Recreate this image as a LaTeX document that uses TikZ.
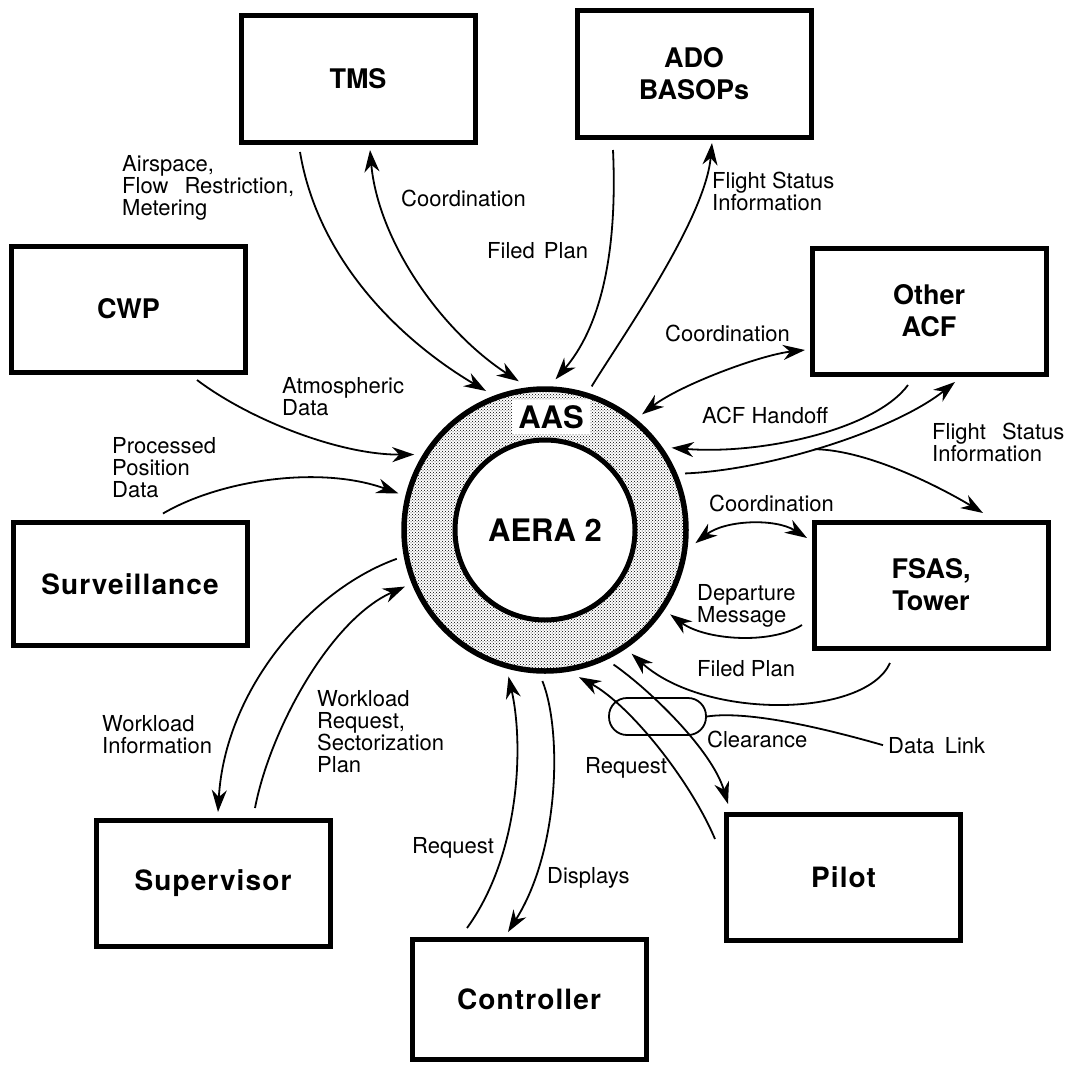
\documentclass[tikz,border=0pt]{standalone}
\usepackage{fontspec}
\setmainfont{TeX Gyre Heros}
\newfontfamily\spacedheros[LetterSpace=4]{TeX Gyre Heros}
\usetikzlibrary{arrows.meta,patterns}
\begin{document}
\begin{tikzpicture}[x=1pt,y=-1pt,
  >={Stealth[length=22pt,width=15pt,inset=7pt]},
  box/.style={draw,line width=5pt,minimum width=234pt,minimum height=126pt,
    align=center,inner sep=0pt,font=\fontsize{27}{32}\selectfont\bfseries},
  widebox/.style={box,font=\spacedheros\fontsize{28}{32}\selectfont\bfseries},
  lbl/.style={font=\fontsize{22}{22}\selectfont,align=left,inner sep=0pt,anchor=base west},
  flow/.style={line width=1.8pt},
  core/.style={circle,draw,inner sep=0pt,font=\fontsize{31}{31}\selectfont\bfseries}]
\useasboundingbox (0,0) rectangle (1076,1065);

% central system: AAS ring around AERA 2
\node[core,line width=5.5pt,minimum size=282pt,outer sep=10pt,pattern=crosshatch dots] (aas) at (545,530) {};
\node[core,line width=5pt,minimum size=180pt,fill=white] (aera) at (545,530) {AERA 2};
\node[fill=white,inner xsep=6pt,inner ysep=5pt,font=\fontsize{31}{31}\selectfont\bfseries] (aaslbl) at (551,417) {AAS};

% external entities
\node[box] (tms) at (358,79) {TMS};
\node[box] (ado) at (694,74) {ADO\\BASOPs};
\node[box] (cwp) at (128.5,309) {CWP};
\node[box] (acf) at (929,311) {Other\\ACF};
\node[widebox,minimum height=123pt] (surv) at (130,584) {Surveillance};
\node[box] (fsas) at (931,585) {FSAS,\\Tower};
\node[widebox] (sup) at (213,883.5) {Supervisor};
\node[widebox,minimum height=120pt] (ctl) at (529,999.5) {Controller};
\node[widebox] (pilot) at (843.5,877.5) {Pilot};

% data flows, top
\draw[flow,->] ([xshift=-58pt,yshift=-7.5pt]tms.south) .. controls (318,260) and (400,340) .. (aas.113);
\draw[flow,<->] ([xshift=12pt,yshift=-5.5pt]tms.south) .. controls (378,240) and (440,330) .. (aas.100);
\draw[flow,->] ([xshift=-81pt,yshift=-10.5pt]ado.south) .. controls (618,260) and (598,330) .. (aas.86);
\draw[flow,->] (aas.72) .. controls (620,340) and (705,220) .. ([xshift=18pt,yshift=-3.5pt]ado.south);

% data flows, left
\draw[flow,->] ([xshift=68.5pt,yshift=-5.5pt]cwp.south) .. controls (250,420) and (340,455) .. (aas.150);
\draw[flow,->] ([xshift=33pt,yshift=6.5pt]surv.north) .. controls (220,480) and (320,465) .. (aas.166);
\draw[flow,->] (aas.191) .. controls (310,590) and (225,690) .. ([xshift=5pt,yshift=6pt]sup.north);
\draw[flow,->] ([xshift=42pt,yshift=10pt]sup.north) .. controls (270,730) and (330,620) .. (aas.202);

% data flows, bottom
\draw[flow,->] ([xshift=-62pt,yshift=9pt]ctl.north) .. controls (520,855) and (524,745) .. (aas.256);
\draw[flow,->] (aas.269) .. controls (562,730) and (560,850) .. ([xshift=-21pt,yshift=5pt]ctl.north);
\draw[flow,->] ([xshift=-9pt,yshift=-27pt]pilot.north west) .. controls (690,780) and (630,705) .. (aas.283);
\draw[flow,->] (aas.297) .. controls (650,690) and (712,750) .. ([xshift=4pt,yshift=8pt]pilot.north west);

% data link marker
\node[draw,line width=1.8pt,rounded corners=18pt,minimum width=97pt,minimum height=37pt] (dl) at (657.5,716.5) {};
\node[lbl] (dlab) at (888,753) {Data\hspace{4pt} Link};
\draw[flow] (dl.east) .. controls (750,710) and (830,730) .. ([xshift=-5pt]dlab.west);

% data flows, right
\draw[flow,->] ([xshift=-41pt,yshift=-12.5pt]fsas.south) .. controls (865,718) and (705,720) .. (aas.305);
\draw[flow,->] ([xshift=-9.5pt,yshift=-40pt]fsas.west) .. controls (770,645) and (705,640) .. (aas.326);
\draw[flow,<->] (aas.355) .. controls (725,520) and (775,518) .. ([xshift=-4.5pt,yshift=47pt]fsas.west);
\draw[flow,->] (aas.22) .. controls (770,470) and (895,430) .. ([xshift=26pt,yshift=-5.5pt]acf.south) coordinate[pos=0.45] (fsbranch);
\draw[flow,->] (fsbranch) .. controls (870,450) and (945,490) .. ([xshift=52pt,yshift=6.5pt]fsas.north);
\draw[flow,->] ([xshift=-21pt,yshift=-8.5pt]acf.south) .. controls (875,430) and (760,455) .. (aas.33);
\draw[flow,<->] (aas.50) .. controls (680,385) and (760,355) .. ([xshift=-4.5pt,yshift=-39pt]acf.west);

% flow labels (multi-line labels are placed by the baseline of their last line)
\node[lbl] (l1) at (122,215) {Airspace,\\Flow\hspace{10pt} Restriction,\\Metering};
\node[lbl] (l2) at (401,206) {Coordination};
\node[lbl] (l3) at (487,258) {Filed\hspace{3pt} Plan};
\node[lbl] (l4) at (712,210) {Flight Status\\Information};
\node[lbl] (l5) at (282,415) {Atmospheric\\Data};
\node[lbl] (l6) at (112,497) {Processed\\Position\\Data};
\node[lbl] (l7) at (665,341) {Coordination};
\node[lbl] (l8) at (702,423) {ACF Handoff};
\node[lbl] (l9) at (932,461) {Flight\hspace{10pt} Status\\Information};
\node[lbl] (l10) at (709,511) {Coordination};
\node[lbl] (l11) at (697,622) {Departure\\Message};
\node[lbl] (l12) at (697,676) {Filed Plan};
\node[lbl] (l13) at (707,747) {Clearance};
\node[lbl] (l15) at (585,773) {Request};
\node[lbl] (l16) at (412,853) {Request};
\node[lbl] (l17) at (547,883) {Displays};
\node[lbl] (l18) at (102,753) {Workload\\Information};
\node[lbl] (l19) at (317,772) {Workload\\Request,\\Sectorization\\Plan};
\end{tikzpicture}
\end{document}
